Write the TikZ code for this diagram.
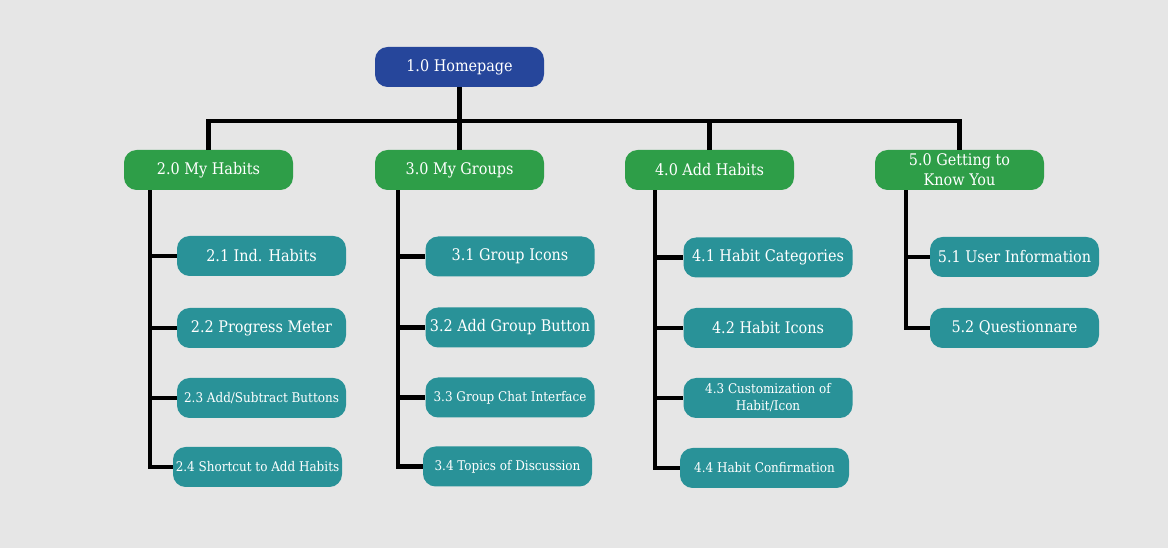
\documentclass[tikz,border=0pt]{standalone}
\usepackage{fontspec}
\setmainfont{DejaVu Serif Condensed}
\usetikzlibrary{calc}
\definecolor{bg}{RGB}{230,230,230}
\definecolor{homeblue}{RGB}{38,70,155}
\definecolor{sectgreen}{RGB}{46,158,72}
\definecolor{pageteal}{RGB}{41,146,152}
\tikzset{
  box/.style={rounded corners=9.5pt, minimum width=126.75pt, minimum height=30pt,
    inner sep=0pt, text=white, align=center, font=\fontsize{12}{15}\selectfont},
  homebox/.style={box, fill=homeblue},
  sectbox/.style={box, fill=sectgreen},
  pagebox/.style={box, fill=pageteal},
  small/.style={font=\fontsize{10}{12.75}\selectfont},
  link/.style={line width=3.2pt, draw=black}
}
\begin{document}
\begin{tikzpicture}[x=0.75pt, y=-0.75pt]
\fill[bg] (0,0) rectangle (1168,548);
\useasboundingbox (0,0) rectangle (1168,548);

% top level
\node[homebox] (home) at (459.5,67) {1.0 Homepage};

% sections
\node[sectbox] (s2) at (208.5,170) {2.0 My Habits};
\node[sectbox] (s3) at (459.5,170) {3.0 My Groups};
\node[sectbox] (s4) at (709.5,170) {4.0 Add Habits};
\node[sectbox] (s5) at (959.5,170) {5.0 Getting to\\Know You};

% pages of section 2
\node[pagebox] (p21) at (261.5,256) {2.1 Ind. Habits};
\node[pagebox] (p22) at (261.5,328) {2.2 Progress Meter};
\node[pagebox, small] (p23) at (261.5,398) {2.3 Add/Subtract Buttons};
\node[pagebox, small] (p24) at (257.5,467) {2.4 Shortcut to Add Habits};

% pages of section 3
\node[pagebox] (p31) at (510,256.5) {3.1 Group Icons};
\node[pagebox] (p32) at (510,327.5) {3.2 Add Group Button};
\node[pagebox, small] (p33) at (510,397.5) {3.3 Group Chat Interface};
\node[pagebox, small] (p34) at (507.5,466.5) {3.4 Topics of Discussion};

% pages of section 4
\node[pagebox] (p41) at (768,257.5) {4.1 Habit Categories};
\node[pagebox] (p42) at (768,328) {4.2 Habit Icons};
\node[pagebox, small] (p43) at (768,398) {4.3 Customization of\\Habit/Icon};
\node[pagebox, small] (p44) at (764.5,468) {4.4 Habit Confirmation};

% pages of section 5
\node[pagebox] (p51) at (1014.5,257) {5.1 User Information};
\node[pagebox] (p52) at (1014.5,328) {5.2 Questionnare};

% bus from the homepage to the sections
\coordinate (bus) at (0,121);
\draw[link] (home.south) -- (home.south |- bus);
\draw[link] (s2.north) -- (s2.north |- bus) -- (s5.north |- bus) -- (s5.north);
\draw[link] (s3.north |- bus) -- (s3.north);
\draw[link] (s4.north |- bus) -- (s4.north);

% section spines
\coordinate (t2) at ($(s2.south west)+(26,0)$);
\coordinate (t3) at ($(s3.south west)+(23,0)$);
\coordinate (t4) at ($(s4.south west)+(30,0)$);
\coordinate (t5) at ($(s5.south west)+(31,0)$);
\draw[link] (t2) |- (p24.west);
\draw[link] (t2 |- p21.west) -- (p21.west);
\draw[link] (t2 |- p22.west) -- (p22.west);
\draw[link] (t2 |- p23.west) -- (p23.west);
\draw[link] (t3) |- (p34.west);
\draw[link] (t3 |- p31.west) -- (p31.west);
\draw[link] (t3 |- p32.west) -- (p32.west);
\draw[link] (t3 |- p33.west) -- (p33.west);
\draw[link] (t4) |- (p44.west);
\draw[link] (t4 |- p41.west) -- (p41.west);
\draw[link] (t4 |- p42.west) -- (p42.west);
\draw[link] (t4 |- p43.west) -- (p43.west);
\draw[link] (t5) |- (p52.west);
\draw[link] (t5 |- p51.west) -- (p51.west);
\end{tikzpicture}
\end{document}
